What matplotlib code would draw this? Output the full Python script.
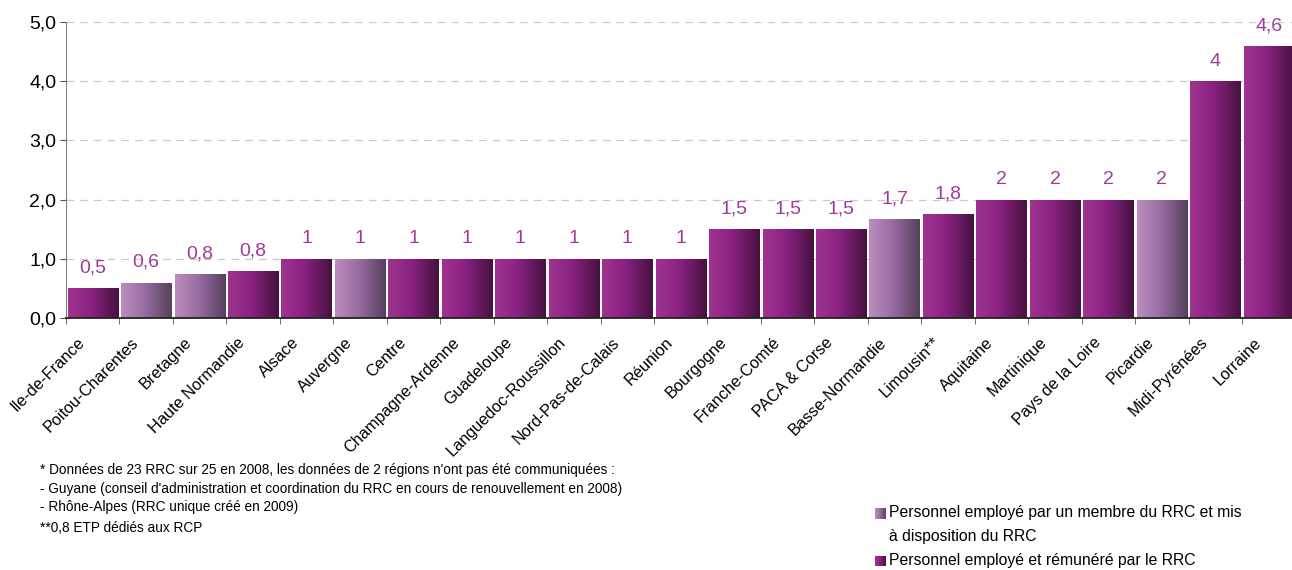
import numpy as np
import matplotlib
matplotlib.use("Agg")
import matplotlib.pyplot as plt
import matplotlib.transforms as mtransforms
from matplotlib.patches import Rectangle

plt.rcParams['font.family'] = ['Liberation Sans', 'DejaVu Sans']

# données
regions = ['Ile-de-France', 'Poitou-Charentes', 'Bretagne', 'Haute Normandie', 'Alsace',
           'Auvergne', 'Centre', 'Champagne-Ardenne', 'Guadeloupe', 'Languedoc-Roussillon',
           'Nord-Pas-de-Calais', 'Réunion', 'Bourgogne', 'Franche-Comté', 'PACA & Corse',
           'Basse-Normandie', 'Limousin**', 'Aquitaine', 'Martinique', 'Pays de la Loire',
           'Picardie', 'Midi-Pyrénées', 'Lorraine']
etp = [0.5, 0.6, 0.75, 0.8, 1, 1, 1, 1, 1, 1, 1, 1, 1.5, 1.5, 1.5, 1.67, 1.75, 2, 2, 2, 2, 4, 4.6]
etiquettes = ['0,5', '0,6', '0,8', '0,8', '1', '1', '1', '1', '1', '1', '1', '1', '1,5', '1,5',
              '1,5', '1,7', '1,8', '2', '2', '2', '2', '4', '4,6']
mis_a_dispo = [0, 1, 1, 0, 0, 1, 0, 0, 0, 0, 0, 0, 0, 0, 0, 1, 0, 0, 0, 0, 1, 0, 0]

# dégradés horizontaux
def degrade(c1, c2, c3, n=64):
    c1, c2, c3 = [np.array(matplotlib.colors.to_rgb(c)) for c in (c1, c2, c3)]
    t = np.linspace(0, 1, n)[:, None]
    g = np.where(t < 0.45, c1 + (c2 - c1) * (t / 0.45), c2 + (c3 - c2) * ((t - 0.45) / 0.55))
    return g[None, :, :]

grad_fonce = degrade('#a0338f', '#8a2282', '#47123f')
grad_clair = degrade('#bd8cbd', '#9a6ea4', '#56405c')

fig = plt.figure(figsize=(12.92, 5.70), dpi=100)
ax = fig.add_axes([66 / 1292, 0.442, 1229.5 / 1292, 0.5194])

x = np.arange(len(regions))
w = 0.94
for i, v in enumerate(etp):
    g = grad_clair if mis_a_dispo[i] else grad_fonce
    rect = Rectangle((x[i] - w / 2, 0), w, v, facecolor='none', edgecolor='none')
    ax.add_patch(rect)
    im = ax.imshow(g, extent=(x[i] - w / 2, x[i] + w / 2, 0, v), aspect='auto', zorder=2,
                   interpolation='bilinear')
    im.set_clip_path(rect)
    ax.annotate(etiquettes[i], (x[i], v), xytext=(0, 14.5), textcoords='offset points',
                ha='center', va='center', fontsize=14, color='#a03a9a')

ax.set_xlim(-0.5, len(regions) - 0.5)
ax.set_ylim(0, 5)
ax.set_yticks(np.arange(0, 5.1, 1))
ax.set_yticklabels(['0,0', '1,0', '2,0', '3,0', '4,0', '5,0'], fontsize=14)
ax.yaxis.grid(True, linestyle=(0, (6, 5)), color='#c8c8c8', linewidth=0.9)
ax.set_axisbelow(True)

ax.set_xticks(x)
ax.set_xticklabels(regions, rotation=45, ha='right', va='top', fontsize=11.7)
ax.tick_params(axis='x', length=0, pad=12)
decal = mtransforms.ScaledTranslation(-5 / 100, 0, fig.dpi_scale_trans)
for lab in ax.get_xticklabels():
    lab.set_transform(lab.get_transform() + decal)
ax.set_xticks(np.arange(-0.5, len(regions), 1), minor=True)
ax.tick_params(axis='x', which='minor', length=4, color='#555555')
ax.tick_params(axis='y', length=4, color='#555555', pad=3)

for s in ['top', 'right']:
    ax.spines[s].set_visible(False)
ax.spines['left'].set_color('#808080')
ax.spines['bottom'].set_color('#222222')
ax.spines['bottom'].set_linewidth(1.3)

# notes
notes = ["* Données de 23 RRC sur 25 en 2008, les données de 2 régions n'ont pas été communiquées :",
         "- Guyane (conseil d'administration et coordination du RRC en cours de renouvellement en 2008)",
         "- Rhône-Alpes (RRC unique créé en 2009)",
         "**0,8 ETP dédiés aux RCP"]
ys = [470, 489, 507, 528]
for t, yy in zip(notes, ys):
    fig.text(40 / 1292, 1 - yy / 570, t, fontsize=9.8, va='center', ha='left')

# légende
leg = [(grad_clair, 'Personnel employé par un membre du RRC et mis', 513, 875),
       (None, 'à disposition du RRC', 536, None),
       (grad_fonce, 'Personnel employé et rémunéré par le RRC', 561, 875)]
for g, txt, yy, xs in leg:
    if g is not None:
        lax = fig.add_axes([xs / 1292, 1 - (yy + 5.5) / 570, 11 / 1292, 11 / 570])
        lax.imshow(g, aspect='auto', interpolation='bilinear')
        lax.axis('off')
    fig.text(889 / 1292, 1 - yy / 570, txt, fontsize=11.3, va='center', ha='left')

fig.savefig('out.png', dpi=100)
